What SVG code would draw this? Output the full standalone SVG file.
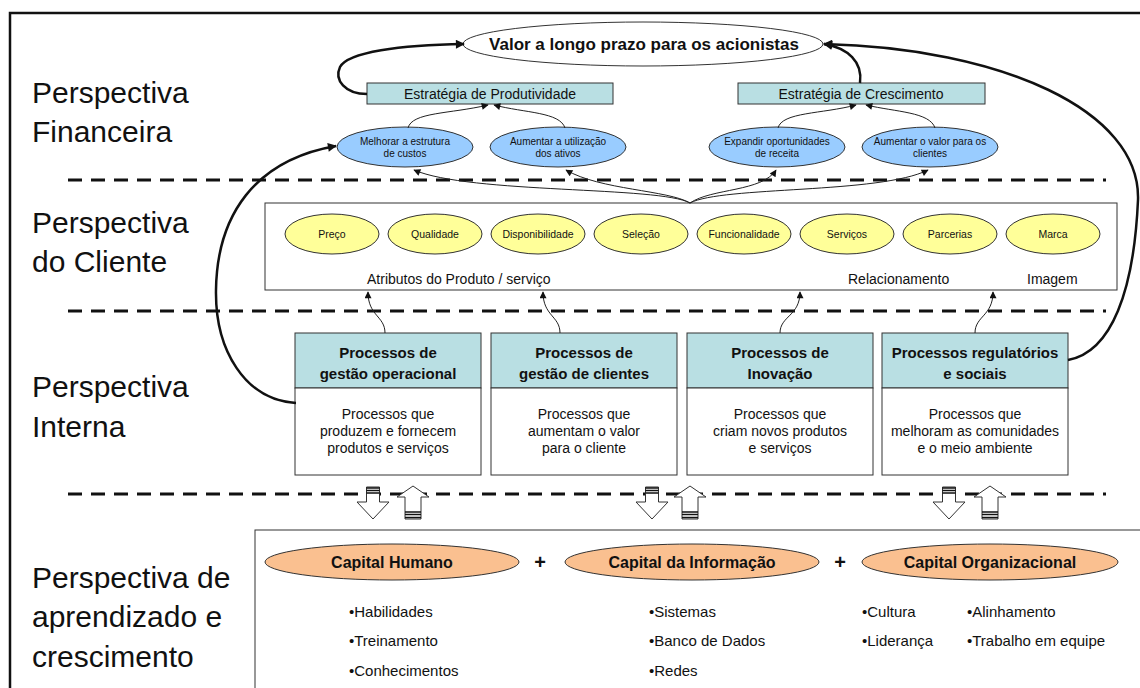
<svg xmlns="http://www.w3.org/2000/svg" xmlns:xlink="http://www.w3.org/1999/xlink" width="1140" height="688" viewBox="0 0 1140 688">
<style>
text{font-family:"Liberation Sans",Arial,sans-serif;fill:#111}
.sec{font-size:30px}
.dash{stroke:#111;stroke-width:3;stroke-dasharray:14 9;fill:none}
.big{fill:none;stroke:#111;stroke-width:2.5}
.thin{fill:none;stroke:#222;stroke-width:1}
.blue{fill:#99ccff;stroke:#333;stroke-width:1}
.yel{fill:#ffff99;stroke:#333;stroke-width:1}
.teal{fill:#b9dfe3;stroke:#333;stroke-width:1}
.wbox{fill:#fff;stroke:#333;stroke-width:1}
.org{fill:#fac090;stroke:#333;stroke-width:1}
.sm{font-size:10px;text-anchor:middle}
.ys{font-size:10.5px;text-anchor:middle}
.hd{font-size:15px;font-weight:bold;text-anchor:middle}
.bd{font-size:14px;text-anchor:middle}
.cap{font-size:16px;font-weight:bold;text-anchor:middle}
.bl{font-size:15px}
</style>
<defs>
<marker id="ah" viewBox="0 0 10 10" refX="9" refY="5" markerWidth="11" markerHeight="9" markerUnits="userSpaceOnUse" orient="auto"><path d="M0,0 L10,5 L0,10 Z" fill="#111"/></marker>
<marker id="as" viewBox="0 0 10 10" refX="9" refY="5" markerWidth="9" markerHeight="7" markerUnits="userSpaceOnUse" orient="auto"><path d="M0,0 L10,5 L0,10 Z" fill="#111"/></marker>
<g id="dn"><path d="M-6.5,487 H6.5 V502 H16 L0,519 L-16,502 H-6.5 Z" fill="#fff" stroke="#333" stroke-width="1"/><path d="M-6.5,488 H6.5 M-6.5,490.5 H6.5 M-6.5,493 H6.5" stroke="#111" stroke-width="1.5"/></g>
<g id="up"><path d="M0,486 L16,497 H8 V519 H-8 V497 H-16 Z" fill="#fff" stroke="#333" stroke-width="1"/><path d="M-8,512 H8 M-8,514.5 H8 M-8,517.5 H8" stroke="#111" stroke-width="1.5"/></g>
</defs>
<rect x="0" y="0" width="1140" height="688" fill="#fff"/>
<rect x="10" y="13" width="1150" height="700" fill="none" stroke="#111" stroke-width="2.5"/>

<g id="section-labels">
<text class="sec" x="32" y="103">Perspectiva</text>
<text class="sec" x="32" y="142">Financeira</text>
<text class="sec" x="32" y="233">Perspectiva</text>
<text class="sec" x="32" y="272">do Cliente</text>
<text class="sec" x="32" y="397">Perspectiva</text>
<text class="sec" x="32" y="437">Interna</text>
<text class="sec" x="32" y="588">Perspectiva de</text>
<text class="sec" x="32" y="627">aprendizado e</text>
<text class="sec" x="32" y="667">crescimento</text>
</g>

<g id="dividers">
<line class="dash" x1="68" y1="180" x2="1106" y2="180"/>
<line class="dash" x1="68" y1="311" x2="1106" y2="311"/>
<line class="dash" x1="68" y1="494" x2="1106" y2="494"/>
</g>

<g id="valor">
<ellipse cx="643" cy="44" rx="180" ry="22" fill="#fff" stroke="#333" stroke-width="1"/>
<text x="644" y="50" font-size="17" font-weight="bold" text-anchor="middle">Valor a longo prazo para os acionistas</text>
</g>
<g id="estrategia-produtividade">
<rect class="teal" x="367" y="83" width="246" height="21"/>
<text x="490" y="99" font-size="14" text-anchor="middle">Estratégia de Produtividade</text>
</g>
<g id="estrategia-crescimento">
<rect class="teal" x="738" y="83" width="247" height="21"/>
<text x="861" y="99" font-size="14" text-anchor="middle">Estratégia de Crescimento</text>
</g>
<g id="melhorar">
<ellipse class="blue" cx="405" cy="147" rx="68" ry="20"/>
<text class="sm" x="405" y="145">Melhorar a estrutura</text>
<text class="sm" x="405" y="157">de custos</text>
</g>
<g id="aumentar-utilizacao">
<ellipse class="blue" cx="558" cy="147" rx="68" ry="20"/>
<text class="sm" x="558" y="145">Aumentar a utilização</text>
<text class="sm" x="558" y="157">dos ativos</text>
</g>
<g id="expandir">
<ellipse class="blue" cx="777" cy="147" rx="68" ry="20"/>
<text class="sm" x="777" y="145">Expandir oportunidades</text>
<text class="sm" x="777" y="157">de receita</text>
</g>
<g id="aumentar-valor">
<ellipse class="blue" cx="930" cy="147" rx="68" ry="20"/>
<text class="sm" x="930" y="145">Aumentar o valor para os</text>
<text class="sm" x="930" y="157">clientes</text>
</g>

<g id="cliente">
<rect class="wbox" x="265" y="203" width="852" height="87"/>
<text x="367" y="284" font-size="14">Atributos do Produto / serviço</text>
<text x="848" y="284" font-size="14">Relacionamento</text>
<text x="1027" y="284" font-size="14">Imagem</text>
</g>
<g id="preco"><ellipse class="yel" cx="332" cy="234" rx="47" ry="20"/><text class="ys" x="332" y="238">Preço</text></g>
<g id="qualidade"><ellipse class="yel" cx="435" cy="234" rx="47" ry="20"/><text class="ys" x="435" y="238">Qualidade</text></g>
<g id="disponibilidade"><ellipse class="yel" cx="538" cy="234" rx="47" ry="20"/><text class="ys" x="538" y="238">Disponibilidade</text></g>
<g id="selecao"><ellipse class="yel" cx="641" cy="234" rx="47" ry="20"/><text class="ys" x="641" y="238">Seleção</text></g>
<g id="funcionalidade"><ellipse class="yel" cx="744" cy="234" rx="47" ry="20"/><text class="ys" x="744" y="238">Funcionalidade</text></g>
<g id="servicos"><ellipse class="yel" cx="847" cy="234" rx="47" ry="20"/><text class="ys" x="847" y="238">Serviços</text></g>
<g id="parcerias"><ellipse class="yel" cx="950" cy="234" rx="47" ry="20"/><text class="ys" x="950" y="238">Parcerias</text></g>
<g id="marca"><ellipse class="yel" cx="1053" cy="234" rx="47" ry="20"/><text class="ys" x="1053" y="238">Marca</text></g>

<g id="proc-operacional">
<rect class="teal" x="295" y="333" width="186" height="55"/>
<rect class="wbox" x="295" y="388" width="186" height="87"/>
<text class="hd" x="388" y="358">Processos de</text>
<text class="hd" x="388" y="379">gestão operacional</text>
<text class="bd" x="388" y="419">Processos que</text>
<text class="bd" x="388" y="436">produzem e fornecem</text>
<text class="bd" x="388" y="453">produtos e serviços</text>
</g>
<g id="proc-clientes">
<rect class="teal" x="491" y="333" width="186" height="55"/>
<rect class="wbox" x="491" y="388" width="186" height="87"/>
<text class="hd" x="584" y="358">Processos de</text>
<text class="hd" x="584" y="379">gestão de clientes</text>
<text class="bd" x="584" y="419">Processos que</text>
<text class="bd" x="584" y="436">aumentam o valor</text>
<text class="bd" x="584" y="453">para o cliente</text>
</g>
<g id="proc-inovacao">
<rect class="teal" x="687" y="333" width="186" height="55"/>
<rect class="wbox" x="687" y="388" width="186" height="87"/>
<text class="hd" x="780" y="358">Processos de</text>
<text class="hd" x="780" y="379">Inovação</text>
<text class="bd" x="780" y="419">Processos que</text>
<text class="bd" x="780" y="436">criam novos produtos</text>
<text class="bd" x="780" y="453">e serviços</text>
</g>
<g id="proc-regulatorios">
<rect class="teal" x="882" y="333" width="186" height="55"/>
<rect class="wbox" x="882" y="388" width="186" height="87"/>
<text class="hd" x="975" y="358">Processos regulatórios</text>
<text class="hd" x="975" y="379">e sociais</text>
<text class="bd" x="975" y="419">Processos que</text>
<text class="bd" x="975" y="436">melhoram as comunidades</text>
<text class="bd" x="975" y="453">e o meio ambiente</text>
</g>

<g id="aprendizado">
<rect class="wbox" x="255" y="530" width="900" height="200"/>
<text x="540" y="569" font-size="20" font-weight="bold" text-anchor="middle">+</text>
<text x="840" y="569" font-size="20" font-weight="bold" text-anchor="middle">+</text>
</g>
<g id="capital-humano">
<ellipse class="org" cx="392" cy="562" rx="127" ry="18"/>
<text class="cap" x="392" y="568">Capital Humano</text>
<text class="bl" x="349" y="617">•Habilidades</text>
<text class="bl" x="349" y="646">•Treinamento</text>
<text class="bl" x="349" y="676">•Conhecimentos</text>
</g>
<g id="capital-informacao">
<ellipse class="org" cx="692" cy="562" rx="127" ry="18"/>
<text class="cap" x="692" y="568">Capital da Informação</text>
<text class="bl" x="649" y="617">•Sistemas</text>
<text class="bl" x="649" y="646">•Banco de Dados</text>
<text class="bl" x="649" y="676">•Redes</text>
</g>
<g id="capital-organizacional">
<ellipse class="org" cx="990" cy="562" rx="128" ry="18"/>
<text class="cap" x="990" y="568">Capital Organizacional</text>
<text class="bl" x="862" y="617">•Cultura</text>
<text class="bl" x="862" y="646">•Liderança</text>
<text class="bl" x="967" y="617">•Alinhamento</text>
<text class="bl" x="967" y="646">•Trabalho em equipe</text>
</g>

<g id="connectors">
<path class="big" d="M367,94 C345,94 334,80 340,67 C348,52 400,45 464,44" marker-end="url(#ah)"/>
<path class="big" d="M860,83 C863,62 848,48 824,44" marker-end="url(#ah)"/>
<path class="big" d="M1068,360 C1112,352 1134,290 1138,200 C1141,110 1000,48 824,44" marker-end="url(#ah)"/>
<path class="big" d="M296,403 C245,400 215,350 216,290 C217,215 255,160 336,146" marker-end="url(#ah)"/>
<path class="thin" d="M408,128 C412,112 450,114 488,105" marker-end="url(#as)"/>
<path class="thin" d="M565,128 C560,112 525,113 494,105" marker-end="url(#as)"/>
<path class="thin" d="M778,128 C782,112 822,114 856,105" marker-end="url(#as)"/>
<path class="thin" d="M935,128 C930,112 896,112 866,105" marker-end="url(#as)"/>
<path class="thin" d="M690,203 C660,186 470,194 414,170" marker-end="url(#as)"/>
<path class="thin" d="M690,203 C668,190 600,190 566,170" marker-end="url(#as)"/>
<path class="thin" d="M690,203 C712,188 762,192 776,170" marker-end="url(#as)"/>
<path class="thin" d="M690,203 C722,186 880,194 928,170" marker-end="url(#as)"/>
<path class="thin" d="M385,333 C385,316 368,316 368,292" marker-end="url(#as)"/>
<path class="thin" d="M560,333 C560,316 543,316 543,292" marker-end="url(#as)"/>
<path class="thin" d="M780,333 C780,316 800,316 800,292" marker-end="url(#as)"/>
<path class="thin" d="M975,333 C975,316 993,316 993,292" marker-end="url(#as)"/>
<use xlink:href="#dn" transform="translate(373,0)"/>
<use xlink:href="#up" transform="translate(413,0)"/>
<use xlink:href="#dn" transform="translate(652,0)"/>
<use xlink:href="#up" transform="translate(690,0)"/>
<use xlink:href="#dn" transform="translate(949,0)"/>
<use xlink:href="#up" transform="translate(990,0)"/>
</g>
</svg>
